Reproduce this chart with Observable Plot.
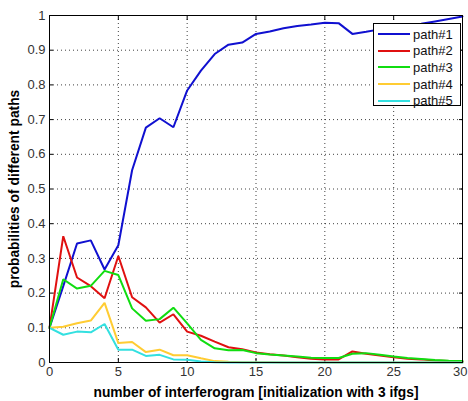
<!DOCTYPE html>
<html>
<head>
<meta charset="utf-8">
<script src="https://cdn.jsdelivr.net/npm/d3@7"></script>
<script src="https://cdn.jsdelivr.net/npm/@observablehq/plot@0.6"></script>
<style>
  html, body { margin: 0; padding: 0; background: #fff; }
  #wrap { position: relative; width: 468px; height: 401px; }
  #legend {
    position: absolute; left: 373px; top: 23px; width: 88px; height: 83px;
    border: 1px solid #000; background: #fff; box-sizing: border-box;
    font: 13px "Liberation Sans Narrow", "Liberation Sans", Arial, sans-serif; color: #111;
  }
  #legend .row { position: absolute; left: 0; height: 16px; display: flex; align-items: center; }
  #legend .sw { width: 32px; height: 2px; margin-left: 4px; margin-right: 3px; }
</style>
</head>
<body>
<div id="wrap"></div>
<script>
const xValues = [0,1,2,3,4,5,6,7,8,9,10,11,12,13,14,15,16,17,18,19,20,21,22,23,24,25,26,27,28,29,30];
const seriesNames = ["path#1","path#2","path#3","path#4","path#5"];
const seriesColors = ["#1010d0","#e01010","#10dd10","#ffcc33","#33e0e0"];
const path1 = [0.10,0.22,0.343,0.352,0.268,0.338,0.554,0.677,0.704,0.678,0.784,0.841,0.889,0.916,0.922,0.947,0.954,0.963,0.970,0.974,0.979,0.978,0.947,0.953,0.960,0.965,0.970,0.976,0.983,0.990,0.997];
const path2 = [0.10,0.364,0.245,0.22,0.185,0.307,0.188,0.159,0.115,0.139,0.089,0.077,0.06,0.044,0.038,0.029,0.024,0.02,0.015,0.011,0.009,0.009,0.032,0.025,0.02,0.015,0.011,0.009,0.006,0.004,0.003];
const path3 = [0.10,0.24,0.213,0.221,0.264,0.252,0.156,0.12,0.125,0.158,0.113,0.065,0.041,0.035,0.036,0.027,0.023,0.02,0.017,0.014,0.013,0.013,0.025,0.027,0.022,0.017,0.013,0.01,0.007,0.005,0.004];
const path4 = [0.10,0.103,0.113,0.121,0.172,0.056,0.059,0.03,0.037,0.021,0.021,0.012,0.004,0.002,0.001,0.001,0.001,0,0,0,0,0,0,0,0,0,0,0,0,0,0];
const path5 = [0.10,0.08,0.089,0.087,0.111,0.037,0.037,0.019,0.022,0.009,0.008,0.003,0.001,0,0,0,0,0,0,0,0,0,0,0,0,0,0,0,0,0,0];
const xTicks = [0,5,10,15,20,25,30];
const yTicks = [0,0.1,0.2,0.3,0.4,0.5,0.6,0.7,0.8,0.9,1];
const yTickLabels = ["0","0.1","0.2","0.3","0.4","0.5","0.6","0.7","0.8","0.9","1"];
const xLabel = "number of interferogram [initialization with 3 ifgs]";
const yLabel = "probabilities of different paths";

const allSeries = [path1, path2, path3, path4, path5];
const rows = [];
allSeries.forEach((vals, si) => vals.forEach((v, i) => rows.push({x: xValues[i], y: v, s: seriesNames[si]})));

const tickFont = "Liberation Sans Narrow, Liberation Sans, Arial, sans-serif";
const labelFont = "Liberation Sans, Arial, sans-serif";
const gridStyle = {stroke: "#000", strokeOpacity: 0.75, strokeDasharray: "1,3", strokeWidth: 1};
const lastX = xTicks[xTicks.length - 1];

const chart = Plot.plot({
  width: 468, height: 401,
  marginLeft: 49, marginRight: 6, marginTop: 15, marginBottom: 39,
  style: {fontFamily: tickFont, background: "#fff"},
  x: {domain: [0, 30]},
  y: {domain: [0, 1]},
  marks: [
    Plot.gridX(xTicks, gridStyle),
    Plot.gridY(yTicks, gridStyle),
    Plot.axisX(xTicks.filter(t => t !== lastX), {anchor: "bottom", tickSize: 0, tickPadding: 4, fontSize: 13, fill: "#333", label: null}),
    Plot.axisX([lastX], {anchor: "bottom", tickSize: 0, tickPadding: 4, fontSize: 13, fill: "#333", label: null, textAnchor: "end", dx: 5}),
    Plot.axisX(xTicks, {anchor: "bottom", tickSize: -4, tickFormat: () => "", label: null}),
    Plot.axisX(xTicks, {anchor: "top", tickSize: -4, tickFormat: () => "", label: null}),
    Plot.axisY(yTicks, {anchor: "left", tickSize: 0, tickPadding: 4, fontSize: 13, fill: "#333", tickFormat: (d, i) => yTickLabels[i], label: null}),
    Plot.axisY(yTicks, {anchor: "left", tickSize: -4, tickFormat: () => "", label: null}),
    Plot.axisY(yTicks, {anchor: "right", tickSize: -4, tickFormat: () => "", label: null}),
    ...seriesNames.map((name, si) => Plot.line(rows.filter(r => r.s === name), {x: "x", y: "y", stroke: seriesColors[si], strokeWidth: 2, strokeLinejoin: "miter"})),
    Plot.frame({stroke: "#000", strokeWidth: 1}),
    Plot.text([xLabel], {frameAnchor: "bottom", lineAnchor: "middle", textAnchor: "middle", dy: 30, text: d => d, fontFamily: labelFont, fontSize: 13.8, fontWeight: "bold", fill: "#000"}),
    Plot.text([yLabel], {frameAnchor: "left", lineAnchor: "middle", textAnchor: "middle", dx: -35, rotate: -90, text: d => d, fontFamily: labelFont, fontSize: 13.8, fontWeight: "bold", fill: "#000"})
  ]
});

const wrap = document.getElementById("wrap");
wrap.appendChild(chart);
const legend = document.createElement("div");
legend.id = "legend";
seriesNames.forEach((name, i) => {
  const row = document.createElement("div");
  row.className = "row";
  row.style.top = (2 + i * 16.7) + "px";
  const sw = document.createElement("span");
  sw.className = "sw";
  sw.style.background = seriesColors[i];
  const t = document.createElement("span");
  t.textContent = name;
  row.appendChild(sw); row.appendChild(t);
  legend.appendChild(row);
});
wrap.appendChild(legend);
</script>
</body>
</html>
